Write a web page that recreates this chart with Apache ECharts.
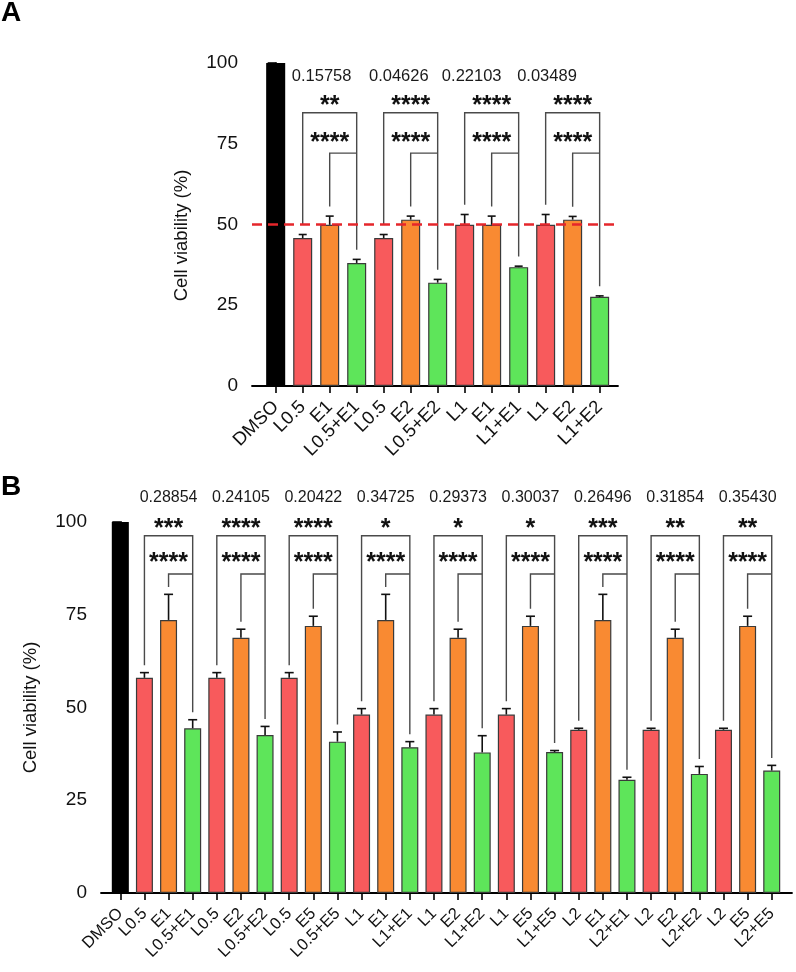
<!DOCTYPE html>
<html><head><meta charset="utf-8">
<script src="https://cdn.jsdelivr.net/npm/echarts@6/dist/echarts.min.js"></script>
<style>html,body{margin:0;padding:0;background:#fff}#c{width:796px;height:972px}</style>
</head><body><div id="c"></div>
<script>
// ---------- DATA ----------
const catsA = ['DMSO','L0.5','E1','L0.5+E1','L0.5','E2','L0.5+E2','L1','E1','L1+E1','L1','E2','L1+E2'];
const meanA = [100,45.8,49.9,38.1,45.8,51.5,32.0,49.9,49.9,36.8,49.9,51.5,27.6];
const sdA   = [0,1.1,2.7,1.1,1.1,1.1,1.0,3.2,2.7,0.3,3.2,1.0,0.3];
const pA          = ['0.15758','0.04626','0.22103','0.03489'];
const outerStarsA = ['**','****','****','****'];
const innerStarsA = ['****','****','****','****'];
const thresholdA = 50;

const catsB = ['DMSO','L0.5','E1','L0.5+E1','L0.5','E2','L0.5+E2','L0.5','E5','L0.5+E5',
  'L1','E1','L1+E1','L1','E2','L1+E2','L1','E5','L1+E5','L2','E1','L2+E1','L2','E2','L2+E2','L2','E5','L2+E5'];
const meanB = [100,58.0,73.6,44.4,58.0,68.8,42.6,58.0,72.0,40.8,48.1,73.6,39.3,48.1,68.8,37.9,48.1,72.0,38.0,44.0,73.6,30.5,44.0,68.8,32.1,44.0,72.0,33.0];
const sdB   = [0,1.4,6.9,2.3,1.4,2.3,2.3,1.4,2.6,2.6,1.6,6.9,1.5,1.6,2.3,4.5,1.6,2.6,0.4,0.4,6.9,0.7,0.4,2.3,2.0,0.4,2.6,1.4];
const pB          = ['0.28854','0.24105','0.20422','0.34725','0.29373','0.30037','0.26496','0.31854','0.35430'];
const outerStarsB = ['***','****','****','*','*','*','***','**','**'];
const innerStarsB = ['****','****','****','****','****','****','****','****','****'];

const yTicks = [0,25,50,75,100];

// ---------- STYLE / LAYOUT ----------
const FONT = "'Liberation Sans', Arial, sans-serif";
const colorOf = c => c === 'DMSO' ? '#000000' : c.includes('+') ? '#5ee55a' : c[0] === 'L' ? '#f85a5c' : '#f98a32';

// annotation layout (in data units)
const layA = { outerTop: 84.6, innerTop: 72.1, outerStar: 88.3, innerStar: 77.0, pY: 95.8, gap: 3.0,
               pX: [1.70, 4.56, 7.26, 10.05], starSize: 25, pSize: 16.5, cap: 4 };
const layB = { outerTop: 96.3, innerTop: 86.0, outerStar: 99.7, innerStar: 90.3, pY: 106.7, gap: 2.0,
               pX: null, starSize: 25, pSize: 16, cap: 4.5 };

function barSeries(cats, means, xi, barWidth, extra) {
  return Object.assign({
    type: 'bar', xAxisIndex: xi, yAxisIndex: xi, barWidth: barWidth, silent: true,
    data: cats.map((c, i) => ({
      value: [i, means[i]],
      itemStyle: { color: colorOf(c), borderColor: c === 'DMSO' ? '#000' : '#3a3a3a', borderWidth: 1.2 }
    }))
  }, extra || {});
}

function errSeries(means, sds, xi, cap) {
  return {
    type: 'custom', xAxisIndex: xi, yAxisIndex: xi, silent: true, z: 5,
    data: means.map((m, i) => [i, m, sds[i]]).filter(d => d[2] > 0),
    renderItem: function (params, api) {
      const x = api.value(0), m = api.value(1), s = api.value(2);
      const p0 = api.coord([x, m]), p1 = api.coord([x, m + s]);
      const st = { stroke: '#111', lineWidth: 1.6 };
      return { type: 'group', children: [
        { type: 'line', shape: { x1: p0[0], y1: p0[1], x2: p1[0], y2: p1[1] }, style: st },
        { type: 'line', shape: { x1: p1[0] - cap, y1: p1[1], x2: p1[0] + cap, y2: p1[1] }, style: st }
      ]};
    }
  };
}

function bracketSeries(means, sds, pv, outer, inner, lay, xi) {
  return {
    type: 'custom', xAxisIndex: xi, yAxisIndex: xi, silent: true, z: 6,
    data: pv.map((p, g) => [g, 0]),
    renderItem: function (params, api) {
      const g = api.value(0);
      const a = 1 + 3 * g, b = a + 1, c = a + 2;
      const top = i => means[i] + sds[i] + lay.gap;
      const P = (x, y) => api.coord([x, y]);
      const ln = { stroke: '#4a4a4a', lineWidth: 1.4, fill: null };
      const outerPts = [P(a, top(a)), P(a, lay.outerTop), P(c, lay.outerTop), P(c, top(c))];
      const innerPts = [P(b, top(b)), P(b, lay.innerTop), P(c, lay.innerTop)];
      const so = P(b, lay.outerStar), si = P(b, lay.innerStar);
      const pp = P(lay.pX ? lay.pX[g] : b, lay.pY);
      const dy = lay.starSize * 0.22;
      const starStyle = (t, pt) => ({ type: 'text', x: pt[0], y: pt[1] + dy,
        style: { text: t, fill: '#111', fontSize: lay.starSize, fontWeight: 'bold', fontFamily: FONT, align: 'center', verticalAlign: 'middle' } });
      return { type: 'group', children: [
        { type: 'polyline', shape: { points: outerPts }, style: ln },
        { type: 'polyline', shape: { points: innerPts }, style: ln },
        starStyle(outer[g], so),
        starStyle(inner[g], si),
        { type: 'text', x: pp[0], y: pp[1],
          style: { text: pv[g], fill: '#1a1a1a', fontSize: lay.pSize, fontFamily: FONT, align: 'center', verticalAlign: 'middle' } }
      ]};
    }
  };
}

function xAxisDef(cats, gi, min, max, fs, margin) {
  const idx = cats.map((c, i) => i);
  return {
    type: 'value', gridIndex: gi, min: min, max: max,
    axisLine: { show: true, lineStyle: { color: '#000', width: 1.8 } },
    axisTick: { show: true, customValues: idx, length: 7, lineStyle: { color: '#000', width: 1.6 } },
    axisLabel: { show: true, customValues: idx, rotate: 45, margin: margin, color: '#111', fontSize: fs,
      fontFamily: FONT, hideOverlap: false,
      formatter: v => cats[Math.round(v)] },
    splitLine: { show: false }
  };
}
function yAxisDef(gi, namePad) {
  return {
    type: 'value', gridIndex: gi, min: 0, max: 100, interval: 25,
    name: 'Cell viability (%)', nameLocation: 'middle', nameGap: 61, nameRotate: 90,
    nameTextStyle: { color: '#111', fontSize: 18.5, fontFamily: FONT, padding: namePad },
    axisLine: { show: true, lineStyle: { color: '#000', width: 1.8 } },
    axisTick: { show: true, length: 8, lineStyle: { color: '#000', width: 1.6 } },
    axisLabel: { color: '#111', fontSize: 19, fontFamily: FONT, margin: 14,
      formatter: v => yTicks.includes(v) ? String(v) : '' },
    splitLine: { show: false }
  };
}

const chart = echarts.init(document.getElementById('c'), null, { renderer: 'canvas' });
chart.setOption({
  animation: false,
  backgroundColor: '#fff',
  title: [
    { text: 'A', left: 1, top: -1, padding: 0, textStyle: { fontSize: 28, fontWeight: 'bold', color: '#000', fontFamily: FONT } },
    { text: 'B', left: 1, top: 473, padding: 0, textStyle: { fontSize: 28, fontWeight: 'bold', color: '#000', fontFamily: FONT } }
  ],
  grid: [
    { left: 252, top: 63, width: 366, height: 323 },
    { left: 101, top: 522, width: 691, height: 371 }
  ],
  xAxis: [ xAxisDef(catsA, 0, -0.878, 12.68, 18.5, 18), xAxisDef(catsB, 1, -0.8, 27.84, 16.5, 18) ],
  yAxis: [ yAxisDef(0, [0, 22, 0, 0]), yAxisDef(1, 0) ],
  series: [
    barSeries(catsA, meanA, 0, 19, {
      markLine: { silent: true, symbol: 'none', label: { show: false }, z: 10,
        lineStyle: { color: '#e5262b', type: [10, 6], width: 2.6 },
        data: [{ yAxis: thresholdA }] }
    }),
    errSeries(meanA, sdA, 0, layA.cap),
    bracketSeries(meanA, sdA, pA, outerStarsA, innerStarsA, layA, 0),
    barSeries(catsB, meanB, 1, 17),
    errSeries(meanB, sdB, 1, layB.cap),
    bracketSeries(meanB, sdB, pB, outerStarsB, innerStarsB, layB, 1)
  ]
});
</script>
</body></html>
